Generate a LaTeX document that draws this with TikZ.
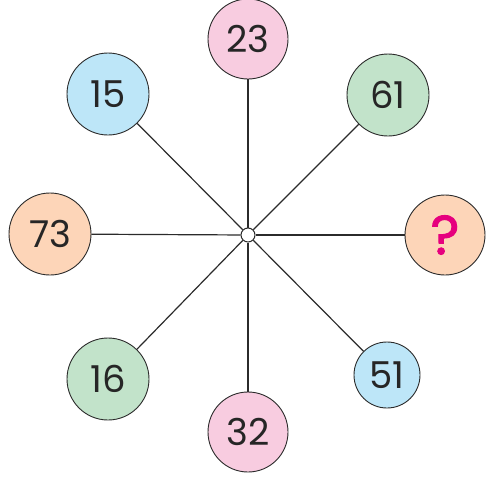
\documentclass[tikz,border=0pt]{standalone}
\usepackage{fontspec}
\setmainfont{Poppins}
\newfontfamily\qfont[FakeBold=1.8]{Poppins}
\definecolor{cpink}{HTML}{F8CCE0}
\definecolor{cblue}{HTML}{BDE6F8}
\definecolor{cgreen}{HTML}{C2E3CA}
\definecolor{cpeach}{HTML}{FDD5B8}
\definecolor{cline}{HTML}{2B2B2B}
\definecolor{cmag}{HTML}{E6007E}
\begin{document}
\begin{tikzpicture}[x=1pt,y=-1pt,
  num/.style={circle,draw=cline,line width=0.9pt,inner sep=0pt,
    minimum size=80pt,font=\fontsize{37}{37}\selectfont,text=black!85},
  spoke/.style={draw=cline,line width=1.2pt}]
\useasboundingbox (0,0) rectangle (496,480);
\node[circle,draw=cline,line width=1pt,fill=white,minimum size=14pt,inner sep=0pt] (hub) at (248,235) {};
\node[num,fill=cpink] (n23) at (248,39) {23};
\node[num,fill=cblue,minimum size=82pt] (n15) at (108,94) {15};
\node[num,fill=cgreen,minimum size=82pt] (n61) at (388,95) {61};
\node[num,fill=cpeach,minimum size=82pt] (n73) at (50,234) {73};
\node[num,fill=cpeach,text=cmag,font=\qfont\fontsize{55}{55}\selectfont] (nq) at (445,235) {?};
\node[num,fill=cgreen,minimum size=82pt] (n16) at (108,379) {16};
\node[num,fill=cpink] (n32) at (248,432) {32};
\node[num,fill=cblue,minimum size=66pt] (n51) at (387,375) {51};
\foreach \n in {n23,n15,n61,n73,nq,n16,n32,n51}
  \draw[spoke] (hub) -- (\n);
\end{tikzpicture}
\end{document}
